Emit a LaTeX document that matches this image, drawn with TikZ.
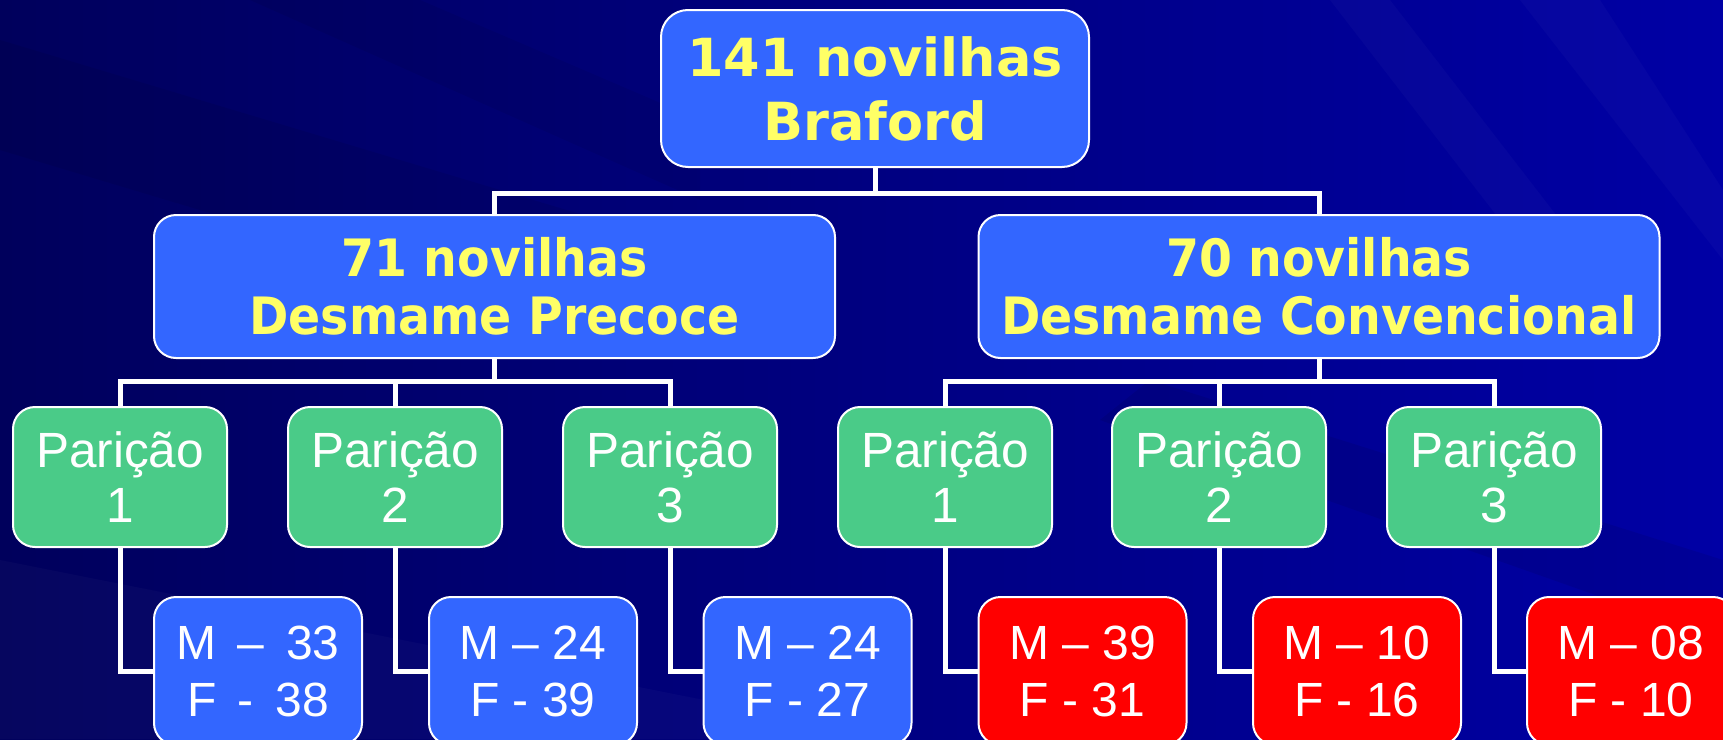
\documentclass[tikz,border=0pt]{standalone}
\usepackage{fontspec}
\newfontfamily\arialf{Liberation Sans}
\newfontfamily\verdf{DejaVu Sans}
\newfontfamily\tahf{DejaVu Sans}[FakeStretch=0.92]
\definecolor{bgdark}{RGB}{0,0,92}
\definecolor{bglight}{RGB}{0,0,165}
\definecolor{boxblue}{RGB}{51,102,255}
\definecolor{boxgreen}{RGB}{74,203,136}
\definecolor{boxred}{RGB}{255,0,0}
\definecolor{txtyellow}{RGB}{255,255,102}
\begin{document}
\begin{tikzpicture}[x=1pt,y=-1pt,
  box/.style={draw=white, line width=2pt, rounded corners=22pt, inner sep=0pt, align=center},
  topbox/.style={box, fill=boxblue, text=txtyellow, minimum width=428pt, minimum height=157pt,
    rounded corners=27pt, font=\verdf\bfseries\fontsize{52.5}{64}\selectfont},
  midbox/.style={box, fill=boxblue, text=txtyellow, minimum width=681pt, minimum height=143pt,
    font=\tahf\bfseries\fontsize{51.5}{58}\selectfont},
  pbox/.style={box, fill=boxgreen, text=white, minimum width=214pt, minimum height=140pt,
    font=\arialf\fontsize{49.5}{55}\selectfont},
  leafblue/.style={box, fill=boxblue, text=white, minimum width=208pt, minimum height=148pt,
    font=\arialf\fontsize{48}{57}\selectfont},
  leafred/.style={leafblue, fill=boxred},
  conn/.style={draw=white, line width=5pt}
]
\useasboundingbox (0,0) rectangle (1723,739);
\clip (0,0) rectangle (1723,739);
\fill[left color=bgdark, right color=bglight] (0,0) rectangle (1723,739);
% subtle diagonal streaks
\fill[black, opacity=0.07] (0,40) -- (0,150) -- (700,360) -- (700,250) -- cycle;
\fill[black, opacity=0.06] (250,0) -- (420,0) -- (700,120) -- (700,200) -- cycle;
\fill[white, opacity=0.025] (0,560) -- (900,739) -- (0,739) -- cycle;
\fill[black, opacity=0.08] (1150,380) -- (1723,560) -- (1723,640) -- (1100,420) -- cycle;
\fill[white, opacity=0.025] (1330,0) -- (1390,0) -- (1560,220) -- (1500,220) -- cycle;
\fill[white, opacity=0.025] (1520,0) -- (1600,0) -- (1723,190) -- (1723,260) -- cycle;

% nodes
\node[topbox] (top) at (875,88.5) {141 novilhas\\Braford};
\node[midbox] (lmid) at (494.5,286.5) {71 novilhas\\Desmame Precoce};
\node[midbox] (rmid) at (1319,286.5) {70 novilhas\\Desmame Convencional};

\node[pbox] (p1) at (120,477) {Parição\\1};
\node[pbox] (p2) at (395,477) {Parição\\2};
\node[pbox] (p3) at (670,477) {Parição\\3};
\node[pbox] (p4) at (945,477) {Parição\\1};
\node[pbox] (p5) at (1219,477) {Parição\\2};
\node[pbox] (p6) at (1494,477) {Parição\\3};

\node[leafblue] (l1) at (258,671) {M\hspace{0.45em}–\hspace{0.45em}33\\F\hspace{0.45em}-\hspace{0.45em}38};
\node[leafblue] (l2) at (533,671) {M – 24\\F - 39};
\node[leafblue] (l3) at (807.5,671) {M – 24\\F - 27};
\node[leafred] (l4) at (1082.5,671) {M – 39\\F - 31};
\node[leafred] (l5) at (1357,671) {M – 10\\F - 16};
\node[leafred] (l6) at (1631,671) {M – 08\\F - 10};

% connectors
\coordinate (j0) at (875,193);
\coordinate (jl) at (494.5,381);
\coordinate (jr) at (1319,381);
\draw[conn] (top.south) -- (j0);
\draw[conn] (j0) -| (lmid.north);
\draw[conn] (j0) -| (rmid.north);
\draw[conn] (lmid.south) -- (jl);
\draw[conn] (jl) -| (p1.north);
\draw[conn] (jl) -| (p2.north);
\draw[conn] (jl) -| (p3.north);
\draw[conn] (rmid.south) -- (jr);
\draw[conn] (jr) -| (p4.north);
\draw[conn] (jr) -| (p5.north);
\draw[conn] (jr) -| (p6.north);
\draw[conn] (p1.south) |- (l1.west);
\draw[conn] (p2.south) |- (l2.west);
\draw[conn] (p3.south) |- (l3.west);
\draw[conn] (p4.south) |- (l4.west);
\draw[conn] (p5.south) |- (l5.west);
\draw[conn] (p6.south) |- (l6.west);
\end{tikzpicture}
\end{document}
